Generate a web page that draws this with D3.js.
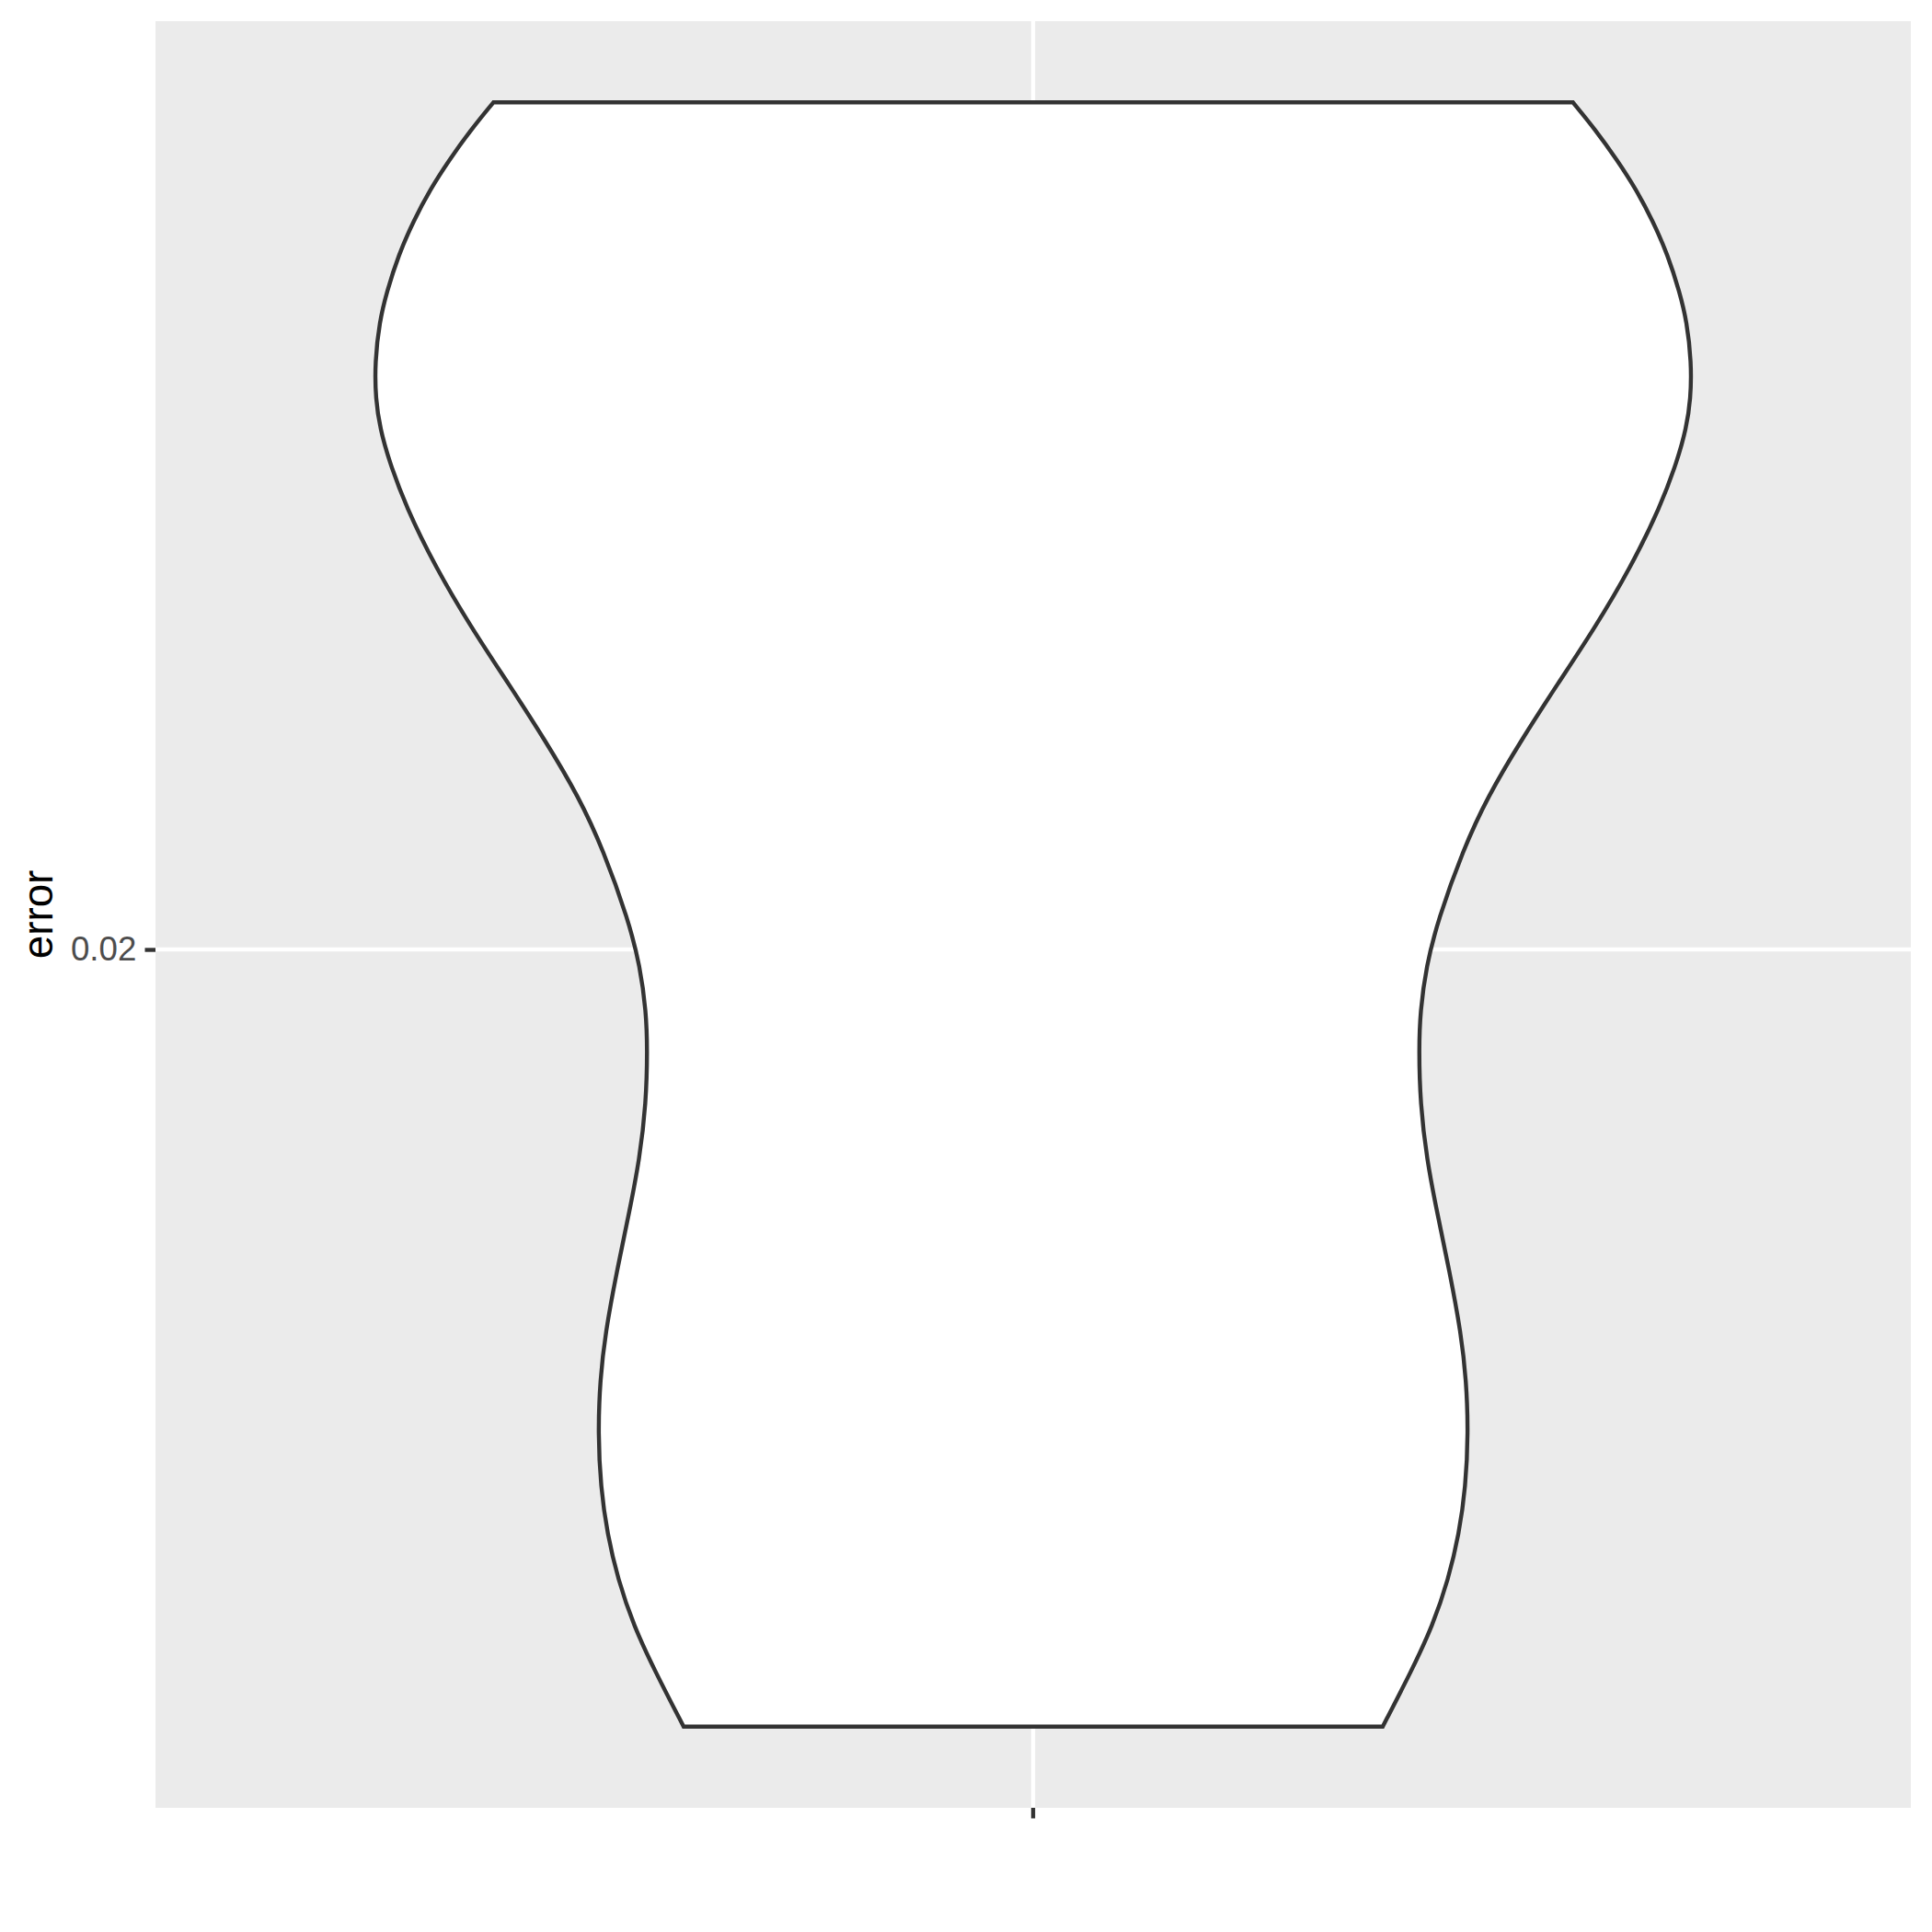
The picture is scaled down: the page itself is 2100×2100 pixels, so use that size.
<!DOCTYPE html>
<html>
<head>
<meta charset="utf-8">
<script src="https://cdn.jsdelivr.net/npm/d3@7"></script>
<style>
  html, body { margin: 0; padding: 0; background: #ffffff; }
  svg { display: block; }
</style>
</head>
<body>
<script>
// ---- data ----
const categories = [""];
const yTickValues = [0.02];
const yTickLabels = ["0.02"];
const yTitle = "error";
const yMin = 0.0150;
const yMax = 0.02545;
// violin profile: error value and scaled density (1 = widest point)
const errorValues = [
  0.02545, 0.02528, 0.02508, 0.02489, 0.02469, 0.02447, 0.02423, 0.02404, 0.02378,
  0.02354, 0.02335, 0.02315, 0.02285, 0.02246, 0.02206, 0.02171, 0.02135, 0.02098,
  0.02064, 0.02019, 0.01989, 0.01960, 0.01936, 0.01901, 0.01865, 0.01832, 0.01792,
  0.01753, 0.01723, 0.01689, 0.01654, 0.01624, 0.01595, 0.01565, 0.01536, 0.01500
];
const densityValues = [
  0.820, 0.853, 0.887, 0.916, 0.941, 0.964, 0.982, 0.993, 1.000,
  0.999, 0.992, 0.979, 0.953, 0.908, 0.852, 0.797, 0.742, 0.690,
  0.653, 0.615, 0.597, 0.588, 0.586, 0.588, 0.598, 0.613, 0.633,
  0.650, 0.658, 0.661, 0.657, 0.647, 0.631, 0.607, 0.575, 0.531
];

// ---- layout ----
const W = 2100, H = 2100;
const panel = { left: 169, top: 23, right: 2077, bottom: 1965 };
const lineW = 4.4;
const tickLen = 11.5;

const svg = d3.select("body").append("svg")
  .attr("width", W).attr("height", H)
  .style("font-family", "'Liberation Sans', Arial, Helvetica, sans-serif");

const range = yMax - yMin;
const y = d3.scaleLinear()
  .domain([yMin - 0.05 * range, yMax + 0.05 * range])
  .range([panel.bottom, panel.top]);

const x = d3.scaleBand()
  .domain(categories)
  .range([panel.left, panel.right])
  .paddingInner(0)
  .paddingOuter(0.1);

const halfWidth = d3.scaleLinear()
  .domain([0, 1])
  .range([0, 0.45 * x.bandwidth()]);

// panel background
svg.append("rect")
  .attr("x", panel.left).attr("y", panel.top)
  .attr("width", panel.right - panel.left)
  .attr("height", panel.bottom - panel.top)
  .attr("fill", "#EBEBEB");

// gridlines
const grid = svg.append("g");
grid.selectAll("line.gy").data(yTickValues).enter().append("line")
  .attr("x1", panel.left).attr("x2", panel.right)
  .attr("y1", d => y(d)).attr("y2", d => y(d))
  .attr("stroke", "#ffffff").attr("stroke-width", lineW);
grid.selectAll("line.gx").data(categories).enter().append("line")
  .attr("x1", d => x(d) + x.bandwidth() / 2).attr("x2", d => x(d) + x.bandwidth() / 2)
  .attr("y1", panel.top).attr("y2", panel.bottom)
  .attr("stroke", "#ffffff").attr("stroke-width", lineW);

// violin
const profile = errorValues.map((v, i) => ({ v: v, d: densityValues[i] }));
categories.forEach(cat => {
  const cx = x(cat) + x.bandwidth() / 2;
  const area = d3.area()
    .y(p => y(p.v))
    .x1(p => cx - halfWidth(p.d))
    .x0(p => cx + halfWidth(p.d))
    .curve(d3.curveBasis);
  svg.append("path")
    .attr("d", area(profile))
    .attr("fill", "#ffffff")
    .attr("stroke", "#333333")
    .attr("stroke-width", lineW)
    .attr("stroke-linejoin", "miter");
});

// y axis
const yAxis = d3.axisLeft(y)
  .tickValues(yTickValues)
  .tickFormat((d, i) => yTickLabels[i])
  .tickSize(tickLen)
  .tickPadding(9.2);
const gy = svg.append("g")
  .attr("transform", `translate(${panel.left},0)`)
  .call(yAxis);
gy.select(".domain").remove();
gy.selectAll(".tick line").attr("stroke", "#333333").attr("stroke-width", lineW);
gy.selectAll(".tick text")
  .attr("fill", "#4D4D4D")
  .style("font-size", "36.7px")
  .style("font-family", "'Liberation Sans', Arial, Helvetica, sans-serif");

// x axis
const xAxis = d3.axisBottom(x)
  .tickSize(tickLen)
  .tickPadding(9.2);
const gx = svg.append("g")
  .attr("transform", `translate(0,${panel.bottom})`)
  .call(xAxis);
gx.select(".domain").remove();
gx.selectAll(".tick line").attr("stroke", "#333333").attr("stroke-width", lineW);
gx.selectAll(".tick text")
  .attr("fill", "#4D4D4D")
  .style("font-size", "36.7px");

// y title
svg.append("text")
  .attr("transform", `translate(57,${(panel.top + panel.bottom) / 2}) rotate(-90)`)
  .attr("text-anchor", "middle")
  .attr("fill", "#000000")
  .style("font-size", "45.8px")
  .text(yTitle);
</script>
</body>
</html>
